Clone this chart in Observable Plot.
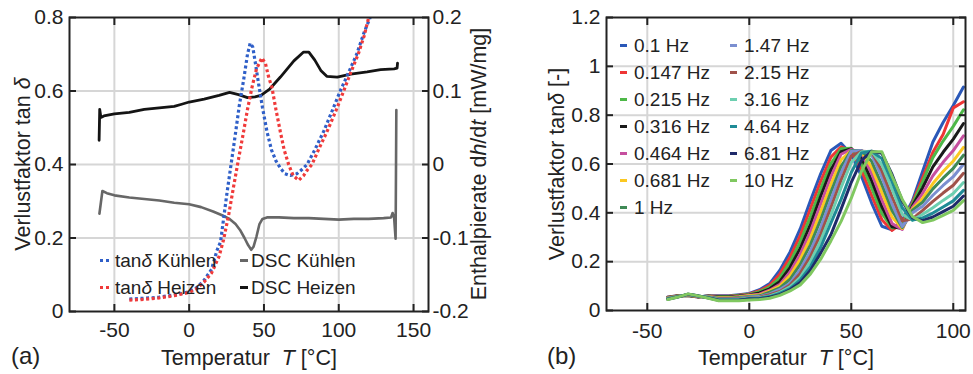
<!DOCTYPE html>
<html><head><meta charset="utf-8">
<script src="https://cdn.jsdelivr.net/npm/d3@7"></script>
<script src="https://cdn.jsdelivr.net/npm/@observablehq/plot@0.6"></script>
<style>
body{margin:0;background:#fff;}
#wrap{position:relative;width:973px;height:374px;overflow:hidden;font-family:"Liberation Sans",Arial,sans-serif;color:#222;}
.t{position:absolute;white-space:pre;line-height:1;}
.m{position:absolute;}
#wrap svg{position:absolute;top:0;}
</style></head><body><div id="wrap"></div>
<script>
// ---------- Panel (a) data ----------
const xTicksA = [-50, 0, 50, 100, 150];
const yTicksA = [0, 0.2, 0.4, 0.6, 0.8];
const yTicksDsc = [-0.2, -0.1, 0, 0.1, 0.2];

const tempKuehlTan = [-40,-30,-20,-10,-5,0,5,10,15,18.5,21,25.2,28,30.8,33.5,36.4,39,40.8,42.5,44.5,46.4,49,52,55,58,61,64,67.6,72,75,78.8,84,89.9,95,101,106,112,117,121];
const tanKuehl = [.034,.036,.039,.045,.049,.054,.065,.085,.115,.165,.19,.32,.40,.48,.56,.63,.70,.73,.72,.67,.62,.555,.49,.44,.41,.39,.375,.37,.375,.385,.40,.44,.49,.54,.60,.645,.70,.76,.80];

const tempHeizTan = [-40,-30,-20,-10,0,5,10,15,20,23,26.5,29.7,33,36.4,39,42,45,48.6,51,53,55.3,58,60.9,63.5,66.5,69.5,73.2,76.5,79,82.1,87,92.2,98,103.3,108,113,117,120];
const tanHeiz = [.031,.033,.037,.043,.052,.062,.08,.105,.15,.195,.265,.34,.415,.49,.55,.61,.66,.69,.675,.64,.61,.55,.49,.44,.40,.37,.357,.37,.385,.40,.445,.49,.545,.60,.65,.70,.75,.80];

const tempDscKuehl = [-60,-58,-55,-50,-40,-30,-20,-10,0,8,16,22,27,31,34,37,39.5,41.5,43,45,47,49,52,60,70,80,90,100,110,120,130,135,136,137,138,138.5];
const dscKuehl = [-.067,-.036,-.039,-.042,-.045,-.047,-.049,-.052,-.054,-.058,-.064,-.069,-.074,-.081,-.089,-.1,-.11,-.116,-.112,-.098,-.081,-.074,-.072,-.072,-.073,-.073,-.074,-.075,-.074,-.074,-.073,-.072,-.066,-.072,-.101,.074];

const tempDscHeiz = [-60.2,-59.8,-59,-57,-50,-40,-30,-20,-10,-5,0,10,20,27,33,39,44,48,54,61,70,76.5,80,84,88,92,99,108,119,128,137,139,139.3];
const dscHeiz = [.033,.075,.064,.066,.069,.071,.075,.077,.079,.082,.085,.089,.094,.098,.095,.091,.092,.094,.103,.119,.141,.153,.153,.142,.128,.12,.119,.123,.126,.129,.130,.131,.138];

// ---------- Panel (b) data ----------
const xTicksB = [-50, 0, 50, 100];
const yTicksB = [0, 0.2, 0.4, 0.6, 0.8, 1, 1.2];
const tempsB = [-40,-35,-30,-25,-20,-15,-10,-5,0,5,10,15,20,25,30,35,40,45,50,55,60,65,70,75,80,85,90,95,100,105];
const freqLabels = ["0.1 Hz","0.147 Hz","0.215 Hz","0.316 Hz","0.464 Hz","0.681 Hz","1 Hz","1.47 Hz","2.15 Hz","3.16 Hz","4.64 Hz","6.81 Hz","10 Hz"];
const freqColors = ["#2a58b8","#ee3535","#4db848","#1a1a1a","#c64f9f","#fbc821","#3f8a56","#7b8fd0","#a0524a","#6dcfb0","#1f8b96","#1f2a6a","#80c860"];

const v0_1   = [.055,.06,.06,.055,.06,.06,.06,.065,.07,.085,.11,.165,.24,.335,.45,.56,.655,.685,.64,.55,.44,.345,.33,.37,.45,.57,.69,.77,.84,.915];
const v0_147 = [.054,.06,.061,.055,.059,.058,.058,.063,.068,.081,.103,.15,.219,.308,.418,.529,.628,.67,.655,.575,.471,.372,.328,.359,.442,.543,.648,.721,.83,.855];
const v0_215 = [.053,.059,.061,.056,.058,.057,.057,.061,.066,.077,.096,.134,.198,.282,.386,.498,.602,.662,.665,.60,.502,.398,.338,.348,.437,.528,.626,.694,.754,.822];
const v0_316 = [.052,.059,.062,.056,.058,.055,.055,.059,.064,.072,.089,.119,.177,.255,.353,.468,.575,.65,.662,.626,.532,.425,.343,.336,.429,.503,.588,.648,.702,.766];
const v0_464 = [.052,.058,.063,.057,.057,.053,.053,.057,.062,.067,.083,.107,.158,.231,.324,.436,.547,.64,.66,.645,.561,.453,.356,.332,.422,.48,.552,.607,.655,.715];
const v0_681 = [.051,.058,.063,.057,.056,.052,.052,.055,.06,.063,.079,.10,.143,.21,.297,.404,.516,.617,.655,.65,.586,.484,.383,.336,.416,.459,.52,.569,.612,.668];
const v1     = [.05,.058,.064,.058,.055,.05,.05,.053,.057,.06,.075,.093,.128,.189,.27,.372,.485,.59,.655,.655,.611,.515,.41,.34,.411,.444,.498,.542,.582,.636];
const v1_47  = [.049,.057,.065,.058,.054,.048,.048,.05,.055,.057,.068,.086,.112,.168,.244,.34,.454,.564,.652,.655,.636,.546,.436,.344,.40,.427,.472,.512,.548,.599];
const v2_15  = [.048,.057,.065,.058,.053,.047,.047,.048,.053,.054,.065,.078,.104,.152,.222,.312,.422,.534,.632,.652,.65,.572,.466,.368,.375,.41,.447,.481,.513,.562];
const v3_16  = [.048,.056,.066,.059,.053,.045,.045,.046,.051,.052,.06,.074,.097,.136,.201,.286,.39,.503,.606,.65,.652,.597,.497,.394,.37,.394,.421,.451,.479,.524];
const v4_64  = [.047,.056,.067,.059,.052,.043,.043,.044,.049,.05,.057,.07,.09,.125,.18,.259,.358,.455,.565,.645,.652,.622,.528,.421,.37,.379,.399,.424,.449,.492];
const v6_81  = [.046,.055,.067,.06,.051,.042,.042,.042,.047,.048,.054,.065,.085,.115,.165,.235,.31,.415,.525,.615,.652,.644,.557,.449,.38,.368,.383,.405,.427,.469];
const v10    = [.045,.055,.068,.06,.05,.04,.04,.04,.043,.045,.05,.062,.08,.105,.15,.21,.285,.365,.46,.57,.65,.65,.55,.455,.385,.36,.37,.39,.41,.45];
const freqSeries = [v0_1,v0_147,v0_215,v0_316,v0_464,v0_681,v1,v1_47,v2_15,v3_16,v4_64,v6_81,v10];

// ---------- build ----------
const FONT = "Liberation Sans, Arial, sans-serif";
const ink = "#222";
const gridColor = "#d6d6d6";
const blue = "#2f5fc8", red = "#f03a3a";
const fmt = d => String(+(+d).toFixed(2));
const dscToLeft = d => (d + 0.2) * 2;
const leftToDsc = d => d / 2 - 0.2;
const zip = (xs, ys) => xs.map((x, i) => ({T: x, v: ys[i]}));

const tanKRows = zip(tempKuehlTan, tanKuehl);
const tanHRows = zip(tempHeizTan, tanHeiz);
const dscKRows = zip(tempDscKuehl, dscKuehl);
const dscHRows = zip(tempDscHeiz, dscHeiz);
const freqRows = freqSeries.flatMap((vals, i) => vals.map((v, j) => ({T: tempsB[j], v, f: freqLabels[i]})));

const TS = -7;
const common = {strokeWidth: 2, stroke: ink, fill: ink, label: null};
const dotted = {strokeWidth: 3.2, strokeDasharray: "3,2.6", strokeLinecap: "butt", strokeLinejoin: "miter"};

const leftPlot = Plot.plot({
  width: 493, height: 374,
  marginLeft: 69, marginRight: 65, marginTop: 17, marginBottom: 63,
  style: {background: "transparent", fontFamily: FONT, fontSize: "21px", color: ink, overflow: "visible"},
  x: {domain: [-80, 160]},
  y: {domain: [0, 0.8]},
  marks: [
    Plot.gridX(xTicksA, {stroke: gridColor, strokeOpacity: 1, strokeWidth: 2}),
    Plot.gridY(yTicksA.slice(1, -1), {stroke: gridColor, strokeOpacity: 1, strokeWidth: 2}),
    Plot.line(dscKRows, {x: "T", y: d => dscToLeft(d.v), stroke: "#676767", strokeWidth: 2.6}),
    Plot.line(dscHRows, {x: "T", y: d => dscToLeft(d.v), stroke: "#141414", strokeWidth: 2.8}),
    Plot.line(tanKRows, {x: "T", y: "v", stroke: blue, ...dotted}),
    Plot.line(tanHRows, {x: "T", y: "v", stroke: red, ...dotted}),
    Plot.axisX({...common, ticks: xTicksA, anchor: "bottom", tickSize: TS, tickPadding: 18, tickFormat: d => String(d)}),
    Plot.axisX({...common, ticks: xTicksA, anchor: "top", tickSize: TS, fill: "none"}),
    Plot.axisY({...common, ticks: yTicksA, anchor: "left", tickSize: TS, tickPadding: 13, tickFormat: fmt}),
    Plot.axisY({...common, ticks: yTicksDsc.map(dscToLeft), anchor: "right", tickSize: TS, tickPadding: 11, tickFormat: d => fmt(leftToDsc(d))}),
    Plot.frame({stroke: ink, strokeWidth: 2})
  ]
});

const rightPlot = Plot.plot({
  width: 480, height: 374,
  marginLeft: 113, marginRight: 8, marginTop: 17, marginBottom: 64,
  style: {background: "transparent", fontFamily: FONT, fontSize: "21px", color: ink, overflow: "visible"},
  x: {domain: [-70, 106]},
  y: {domain: [0, 1.2]},
  color: {domain: freqLabels, range: freqColors},
  marks: [
    Plot.gridX(xTicksB, {stroke: gridColor, strokeOpacity: 1, strokeWidth: 2}),
    Plot.gridY(yTicksB.slice(1, -1), {stroke: gridColor, strokeOpacity: 1, strokeWidth: 2}),
    Plot.line(freqRows, {x: "T", y: "v", z: "f", stroke: "f", strokeWidth: 3, strokeLinejoin: "round"}),
    Plot.axisX({...common, ticks: xTicksB, anchor: "bottom", tickSize: TS, tickPadding: 20, tickFormat: d => String(d)}),
    Plot.axisX({...common, ticks: xTicksB, anchor: "top", tickSize: TS, fill: "none"}),
    Plot.axisY({...common, ticks: yTicksB, anchor: "left", tickSize: TS, tickPadding: 13, tickFormat: fmt}),
    Plot.axisY({...common, ticks: yTicksB, anchor: "right", tickSize: TS, fill: "none"}),
    Plot.frame({stroke: ink, strokeWidth: 2})
  ]
});

const wrap = document.getElementById("wrap");
leftPlot.style.left = "0px";
rightPlot.style.left = "493px";
wrap.appendChild(leftPlot);
wrap.appendChild(rightPlot);

function addText(html, {x, cy, size = 21, center = false, rotate = false}) {
  const el = document.createElement("div");
  el.className = "t";
  el.innerHTML = html;
  el.style.fontSize = size + "px";
  if (rotate) {
    el.style.left = x + "px";
    el.style.top = cy + "px";
    el.style.transform = "translate(-50%,-50%) rotate(-90deg)";
  } else {
    el.style.left = x + "px";
    el.style.top = (cy - 0.49 * size) + "px";
    if (center) el.style.transform = "translateX(-50%)";
  }
  wrap.appendChild(el);
}
function addMarker(x, cy, w, color, isDotted) {
  const el = document.createElement("div");
  el.className = "m";
  el.style.left = x + "px";
  el.style.top = (cy - 1.5) + "px";
  el.style.width = w + "px";
  el.style.height = "3px";
  el.style.background = isDotted
    ? `repeating-linear-gradient(to right, ${color} 0 3px, transparent 3px 6px)`
    : color;
  wrap.appendChild(el);
}

// axis labels
addText("Verlustfaktor tan <i>δ</i>", {x: 24, cy: 164, size: 21.5, rotate: true});
addText("Enthalpierate d<i>h</i>/d<i>t</i> [mW/mg]", {x: 480, cy: 164, size: 21.5, rotate: true});
addText("Temperatur  <i>T</i> [°C]", {x: 249, cy: 359, size: 21.5, center: true});
addText("(a)", {x: 11, cy: 356, size: 24});
addText("Verlustfaktor tan<i>δ</i> [-]", {x: 558, cy: 164, size: 21.5, rotate: true});
addText("Temperatur  <i>T</i> [°C]", {x: 786, cy: 359, size: 21.5, center: true});
addText("(b)", {x: 547, cy: 356, size: 24});

// legend (a)
const legA = [
  {html: "tan<i>δ</i> Kühlen", color: blue, dotted: true, mx: 100, tx: 115, cy: 260},
  {html: "tan<i>δ</i> Heizen", color: red, dotted: true, mx: 100, tx: 115, cy: 287},
  {html: "DSC Kühlen", color: "#676767", dotted: false, mx: 240, tx: 251, cy: 260},
  {html: "DSC Heizen", color: "#141414", dotted: false, mx: 240, tx: 251, cy: 287}
];
legA.forEach(e => { addMarker(e.mx, e.cy, e.dotted ? 9 : 8, e.color, e.dotted); addText(e.html, {x: e.tx, cy: e.cy, size: 19}); });

// legend (b)
const rowsY = [45, 72, 99, 126, 153.5, 180.5, 207.5];
freqLabels.forEach((lab, i) => {
  const col = i < 7 ? 0 : 1;
  const row = i < 7 ? i : i - 7;
  const mx = col ? 730 : 620, tx = col ? 744 : 634;
  addMarker(mx, rowsY[row], 7, freqColors[i], false);
  addText(lab, {x: tx, cy: rowsY[row], size: 19});
});
</script></body></html>
